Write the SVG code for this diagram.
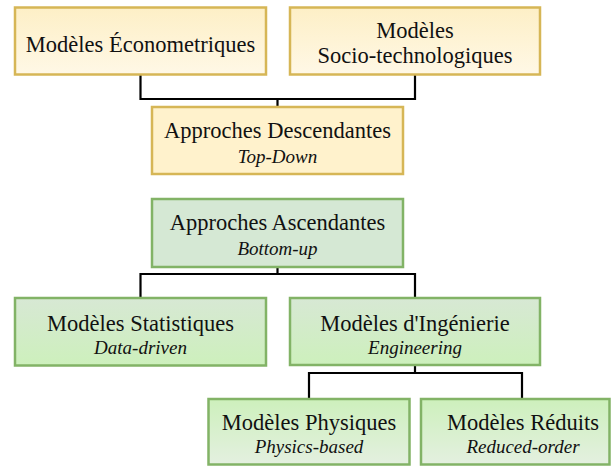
<svg xmlns="http://www.w3.org/2000/svg" width="611" height="466" viewBox="0 0 611 466">
<defs>
<linearGradient id="gY" x1="0" y1="0" x2="0" y2="1"><stop offset="0" stop-color="#fdefc6"/><stop offset="1" stop-color="#fff8e6"/></linearGradient>
<linearGradient id="gG1" x1="0" y1="0" x2="0" y2="1"><stop offset="0" stop-color="#d7e8d4"/><stop offset="1" stop-color="#cdf0bc"/></linearGradient>
<linearGradient id="gG2" x1="0" y1="0" x2="0" y2="1"><stop offset="0" stop-color="#cdf0bc"/><stop offset="1" stop-color="#e4f0e0"/></linearGradient>
<style>
.y{stroke:#d6b656;stroke-width:2.5}
.g{stroke:#82b366;stroke-width:2.5}
text{font-family:'Liberation Serif','Times New Roman',serif;fill:#111;text-anchor:middle}
.t{font-size:22.5px}
.i{font-size:19px;font-style:italic}
.c{fill:none;stroke:#000;stroke-width:2.2}
</style>
</defs>
<rect width="611" height="466" fill="#fff"/>
<g id="connectors">
<path class="c" d="M140.5 75V99H415V75M277.5 99V107"/>
<path class="c" d="M277.5 267V274M140.5 298V274H415V298"/>
<path class="c" d="M415 365V373M309 399V373H522V399"/>
</g>
<g id="econometriques">
<rect class="y" x="15" y="7.5" width="251" height="67" fill="url(#gY)"/>
<text class="t" x="140.5" y="51.5">Modèles Économetriques</text>
</g>
<g id="socio">
<rect class="y" x="290" y="7.5" width="250" height="67" fill="url(#gY)"/>
<text class="t" x="415" y="37.5">Modèles</text>
<text class="t" x="415" y="62.5">Socio-technologiques</text>
</g>
<g id="descendantes">
<rect class="y" x="152" y="107" width="251" height="67" fill="#fff2cc"/>
<text class="t" x="277.5" y="137.5">Approches Descendantes</text>
<text class="i" x="277.5" y="162.5">Top-Down</text>
</g>
<g id="ascendantes">
<rect class="g" x="152" y="199" width="251" height="68" fill="#d5e8d4"/>
<text class="t" x="277.5" y="230">Approches Ascendantes</text>
<text class="i" x="277.5" y="255">Bottom-up</text>
</g>
<g id="statistiques">
<rect class="g" x="15" y="298" width="251" height="67.5" fill="url(#gG1)"/>
<text class="t" x="140.5" y="330.5">Modèles Statistiques</text>
<text class="i" x="140.5" y="354">Data-driven</text>
</g>
<g id="ingenierie">
<rect class="g" x="290" y="298" width="250" height="67" fill="url(#gG1)"/>
<text class="t" x="415" y="330.5">Modèles d'Ingénierie</text>
<text class="i" x="415" y="354">Engineering</text>
</g>
<g id="physiques">
<rect class="g" x="208.5" y="399" width="201" height="65.5" fill="url(#gG2)"/>
<text class="t" x="309" y="429.5">Modèles Physiques</text>
<text class="i" x="309" y="453">Physics-based</text>
</g>
<g id="reduits">
<rect class="g" x="421" y="399" width="188.5" height="65.5" fill="url(#gG2)"/>
<text class="t" x="523" y="429.5">Modèles Réduits</text>
<text class="i" x="523" y="453">Reduced-order</text>
</g>
</svg>
